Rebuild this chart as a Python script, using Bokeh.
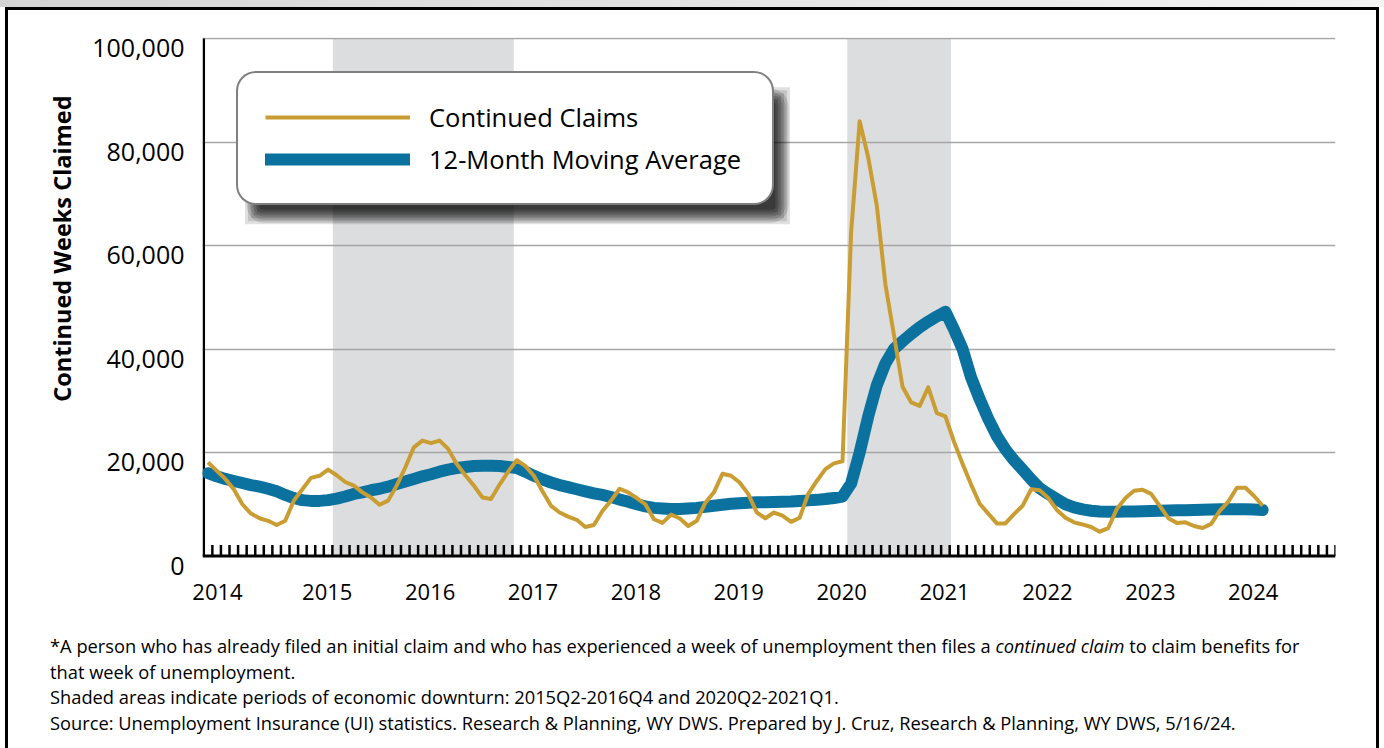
from bokeh.plotting import figure
from bokeh.layouts import column
from bokeh.models import (Range1d, FixedTicker, BoxAnnotation, Legend, LegendItem, LinearAxis,
                          ColumnDataSource, CustomJSTickFormatter, Title, Span, Div)
from bokeh.embed import file_html
from bokeh.resources import INLINE

# ---------------- data ----------------
start_year = 2014
continued_claims = [
    18100, 16500, 14900, 12900, 10000, 8200, 7300, 6800, 6000, 6800, 10700, 12900,      # 2014
    15100, 15500, 16700, 15600, 14300, 13600, 12300, 11300, 9900, 10700, 13600, 17100,   # 2015
    21000, 22300, 21800, 22300, 20700, 17800, 15600, 13600, 11300, 11000, 13800, 16300,  # 2016
    18500, 17400, 15500, 12500, 9700, 8400, 7600, 7000, 5600, 6000, 8700, 10700,         # 2017
    13000, 12300, 11200, 10000, 7100, 6400, 8000, 7300, 5800, 6800, 10300, 12300,        # 2018
    15900, 15500, 14200, 12000, 8400, 7300, 8400, 7800, 6600, 7400, 12000, 14500,        # 2019
    16800, 17900, 18300, 62500, 84000, 77000, 67700, 52500, 42700, 32700, 29700, 29000,  # 2020
    32600, 27600, 27000, 22100, 17800, 13800, 10100, 8200, 6300, 6300, 8100, 9700,       # 2021
    12900, 12700, 11200, 8900, 7400, 6500, 6100, 5600, 4700, 5400, 9100, 11200,          # 2022
    12600, 12800, 12000, 9700, 7300, 6400, 6500, 5800, 5400, 6200, 8700, 10500,          # 2023
    13200, 13200, 11600, 9700,                                                           # 2024
]
moving_average = [
    16000, 15400, 14900, 14500, 14100, 13700, 13400, 13000, 12500, 11800, 11200, 10800,
    10650, 10650, 10800, 11100, 11500, 12000, 12300, 12700, 13000, 13400, 13900, 14400,
    14900, 15400, 15800, 16300, 16700, 17000, 17200, 17400, 17450, 17450, 17400, 17200,
    17000, 16300, 15500, 14800, 14200, 13700, 13300, 12900, 12500, 12100, 11800, 11400,
    10900, 10500, 10000, 9600, 9300, 9200, 9100, 9100, 9200, 9300, 9500, 9700,
    9900, 10100, 10200, 10300, 10400, 10400, 10450, 10500, 10550, 10650, 10750, 10850,
    11000, 11200, 11500, 14000, 20000, 27000, 33000, 37200, 40000, 41500, 42900, 44200,
    45300, 46300, 47200, 43800, 40000, 34500, 30300, 26500, 23200, 20600, 18500, 16700,
    14800, 13100, 12000, 11000, 10000, 9400, 9000, 8750, 8600, 8550, 8550, 8600,
    8600, 8650, 8700, 8750, 8800, 8850, 8850, 8900, 8950, 9000, 9050, 9050,
    9050, 9050, 9000, 8900,
]
months = [f"{start_year + i // 12}-{i % 12 + 1:02d}" for i in range(len(continued_claims))]
years = [str(y) for y in range(2014, 2025)]
y_ticks = [0, 20000, 40000, 60000, 80000, 100000]
shade_start = ["2015-04", "2020-04"]
shade_end = ["2016-12", "2021-03"]
series_names = ["Continued Claims", "12-Month Moving Average"]
y_title = "Continued Weeks Claimed"
footnote_lines = [
    "*A person who has already filed an initial claim and who has experienced a week of unemployment then files a <i>continued claim</i> to claim benefits for",
    "that week of unemployment.",
    "Shaded areas indicate periods of economic downturn: 2015Q2-2016Q4 and 2020Q2-2021Q1.",
    "Source: Unemployment Insurance (UI) statistics. Research &amp; Planning, WY DWS. Prepared by J. Cruz, Research &amp; Planning, WY DWS, 5/16/24.",
]


def month_index(s):
    yy, mm = s.split("-")
    return (int(yy) - start_year) * 12 + int(mm) - 1


x = [month_index(m) for m in months]
n_slots = 132  # 2014-2024, monthly slots

FONT = "Open Sans"
ORANGE = "#C99D32"
BLUE = "#0B72A0"

# pixel geometry of the plot frame
PX_PER_VAL = 517.5 / 100000.0          # pixels per claim
LABEL_SHIFT = 9.5 / PX_PER_VAL         # value labels sit ~9.5px below their grid lines
Y_LO = -LABEL_SHIFT
Y_HI = 100000 + 1.0 / PX_PER_VAL
X_LO, X_HI = -0.65, n_slots - 0.5
FIG_W, FIG_H = 1384, 620
ML, MT, MB = 202, 37, 55
MR = FIG_W - ML - 1133

p = figure(width=FIG_W, height=FIG_H, output_backend="svg", toolbar_location=None,
           x_range=Range1d(X_LO, X_HI), y_range=Range1d(Y_LO, Y_HI),
           min_border_left=ML, min_border_right=MR, min_border_top=MT, min_border_bottom=MB)
p.outline_line_color = None
p.background_fill_color = "white"
p.border_fill_alpha = 0

# shaded downturn periods
for s, e in zip(shade_start, shade_end):
    p.add_layout(BoxAnnotation(left=month_index(s) - 0.45, right=month_index(e) + 0.65,
                               bottom=0, top=100000,
                               fill_color="#DCDDDF", fill_alpha=1.0, line_color=None, level="image"))

# grid
p.xgrid.visible = False
p.ygrid.ticker = FixedTicker(ticks=y_ticks[1:])
p.ygrid.grid_line_color = "#A6A6A6"
p.ygrid.grid_line_width = 1.5

# x axis: labels only (axis line and monthly ticks drawn at zero below)
year_pos = [12 * i + (1.1 if i == 0 else 1.9) for i in range(len(years))]
xa = p.xaxis[0]
xa.ticker = FixedTicker(ticks=year_pos)
xa.formatter = CustomJSTickFormatter(args=dict(years=years),
                                     code="return years[Math.round((tick - 1.9) / 12)];")
xa.major_tick_in = 0
xa.major_tick_out = 0
xa.minor_tick_in = 0
xa.minor_tick_out = 0
xa.axis_line_color = None
xa.major_label_text_font = FONT
xa.major_label_text_font_size = "22px"
xa.major_label_text_color = "black"
xa.major_label_standoff = 18

# y axis: labels on a range shifted so each label sits just below its grid line
p.yaxis.visible = False
p.extra_y_ranges = {"labels": Range1d(Y_LO + LABEL_SHIFT, Y_HI + LABEL_SHIFT)}
ya = LinearAxis(y_range_name="labels", ticker=FixedTicker(ticks=y_ticks))
ya.formatter = CustomJSTickFormatter(code="return tick.toLocaleString('en-US');")
ya.major_tick_in = 0
ya.major_tick_out = 0
ya.minor_tick_in = 0
ya.minor_tick_out = 0
ya.axis_line_color = None
ya.major_label_standoff = 18
ya.major_label_text_font = FONT
ya.major_label_text_font_size = "25px"
ya.major_label_text_color = "black"
p.add_layout(ya, "left")
p.add_layout(Title(text=y_title, align="right", offset=58, text_font=FONT, text_font_size="23.5px",
                   text_font_style="bold", text_color="black", standoff=24), "left")

# axis lines and monthly tick marks
p.segment(x0=[-0.5], y0=[0], x1=[-0.5], y1=[100000], line_color="black", line_width=2.5)
tick_x = [k + 0.5 for k in range(n_slots)]
p.segment(x0=tick_x, y0=[0] * n_slots, x1=tick_x, y1=[11 / PX_PER_VAL] * n_slots,
          line_color="black", line_width=2.5)
p.add_layout(Span(location=0, dimension="width", line_color="black", line_width=3))

# series
src = ColumnDataSource(dict(x=x, claims=continued_claims, avg=moving_average))
r_avg = p.line("x", "avg", source=src, line_color=BLUE, line_width=12, line_cap="round", line_join="round")
r_claims = p.line("x", "claims", source=src, line_color=ORANGE, line_width=4, line_join="round")


# legend drop shadow (screen pixel geometry converted to data units)
def px_x(px):
    return X_LO + (px - ML) * (X_HI - X_LO) / 1133.0


def px_y(py):
    return (555.2 - py) / PX_PER_VAL


for ex in [-7.5, -6, -4.5, -3, -1.5, 0, 1.5, 3, 4.5, 6, 7.5]:
    b = BoxAnnotation(left=px_x(252 - ex), right=px_x(782 + ex), top=px_y(94 - ex), bottom=px_y(216 + ex),
                      fill_color="black", fill_alpha=0.12, line_color=None)
    try:
        b.border_radius = max(2, 12 + ex)
    except Exception:
        pass
    p.add_layout(b)

legend = Legend(items=[LegendItem(label=series_names[0], renderers=[r_claims]),
                       LegendItem(label=series_names[1], renderers=[r_avg])],
                location="top_left", margin=34, padding=27, spacing=8,
                glyph_width=145, glyph_height=32, label_height=32, label_width=316, label_standoff=19,
                border_line_color="black", border_line_width=2.5,
                background_fill_color="white", background_fill_alpha=1.0,
                label_text_font=FONT, label_text_font_size="25.5px", label_text_color="black")
try:
    legend.border_radius = 20
except Exception:
    pass
p.add_layout(legend)

# footnotes
foot = Div(text="<br>".join(footnote_lines), width=FIG_W, height=748 - FIG_H,
           styles={"font-family": "'Open Sans'", "font-size": "18.3px", "line-height": "25.7px",
                   "color": "black", "white-space": "nowrap", "padding-left": "45px",
                   "padding-top": "8px", "box-sizing": "border-box"})

page = column(p, foot, spacing=0)
page.styles = {"background": (
    "linear-gradient(#000,#000) 5px 7px / 3px 741px no-repeat,"
    "linear-gradient(#000,#000) 1376px 7px / 3px 741px no-repeat,"
    "linear-gradient(#000,#000) 5px 7px / 1374px 3px no-repeat,"
    "linear-gradient(to right, #d4d4d4, #f4f4f4) 0 0 / 100% 7px no-repeat,"
    "#ffffff")}

open("out.html", "w").write(file_html(page, INLINE))
